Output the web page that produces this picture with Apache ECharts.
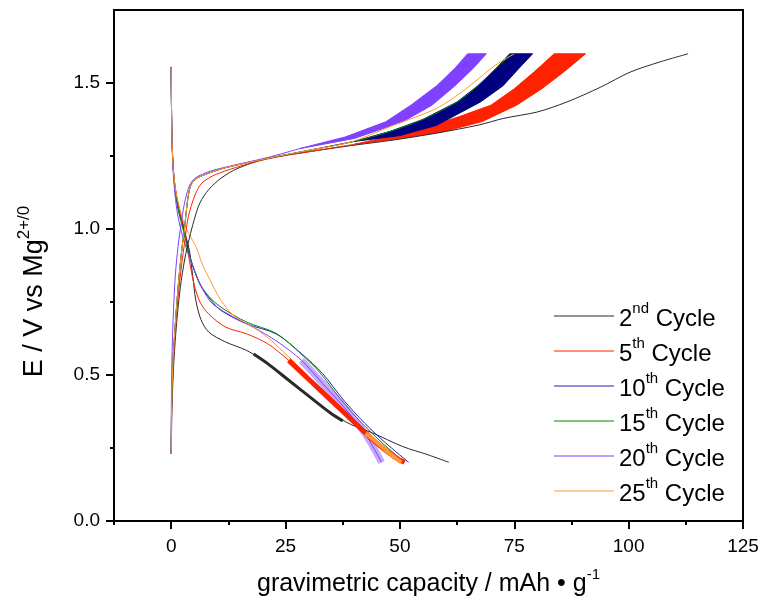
<!DOCTYPE html>
<html>
<head>
<meta charset="utf-8">
<script src="https://cdn.jsdelivr.net/npm/echarts@6/dist/echarts.min.js"></script>
<style>
html,body{margin:0;padding:0;background:#fff;}
#chart{width:762px;height:602px;}
</style>
</head>
<body>
<div id="chart"></div>
<script>
// ---- axis ticks ----
const xTicksMajor = [0, 25, 50, 75, 100, 125];
const xTicksMinor = [-12.5, 12.5, 37.5, 62.5, 87.5, 112.5];
const yTicksMajor = [0, 0.5, 1.0, 1.5];
const yTicksMinor = [0.25, 0.75, 1.25];

// ---- legend / series names ----
const cycleNames = ['2nd Cycle', '5th Cycle', '10th Cycle', '15th Cycle', '20th Cycle', '25th Cycle'];
const cycleNums = ['2', '5', '10', '15', '20', '25'];
const cycleSups = ['nd', 'th', 'th', 'th', 'th', 'th'];

// ---- discharge curves [capacity, E] ----
const discharge2 = [[0,1.555],[0.05,1.45],[0.15,1.33],[0.4,1.22],[0.9,1.14],[1.6,1.08],[2.5,1.02],[3.3,0.97],[4.0,0.925],[4.7,0.84],[5.4,0.755],[6.5,0.69],[8.2,0.647],[11.9,0.613],[16.5,0.584],[21.1,0.539],[25.7,0.482],[30.3,0.425],[34.9,0.369],[39.5,0.329],[44.1,0.301],[50.6,0.255],[56.1,0.227],[60.7,0.201]];
const discharge5 = [[0,1.555],[0.05,1.45],[0.15,1.33],[0.4,1.22],[0.9,1.14],[1.6,1.08],[2.4,1.03],[3.1,0.982],[4.0,0.89],[5.0,0.811],[6.3,0.75],[8.2,0.709],[11.9,0.664],[16.5,0.641],[21.1,0.607],[25.7,0.55],[30.3,0.482],[34.9,0.414],[39.5,0.346],[44.1,0.278],[48.7,0.221],[51.0,0.201]];
const discharge10 = [[0,1.555],[0.05,1.45],[0.15,1.33],[0.4,1.22],[0.8,1.14],[1.5,1.07],[2.6,1.004],[4.2,0.90],[6.3,0.811],[8.5,0.76],[10.9,0.721],[16.5,0.675],[22.9,0.641],[28.5,0.573],[33.1,0.505],[37.7,0.414],[42.3,0.335],[46.9,0.267],[51.9,0.201]];
const discharge15 = [[0,1.555],[0.05,1.45],[0.15,1.33],[0.4,1.22],[0.8,1.14],[1.5,1.07],[2.5,1.005],[4.0,0.91],[6.0,0.82],[8.3,0.768],[10.9,0.732],[16.5,0.681],[22.9,0.643],[28.0,0.578],[32.4,0.51],[36.9,0.42],[41.5,0.338],[46.1,0.268],[51.0,0.201]];
const discharge20 = [[0,1.555],[0.05,1.45],[0.15,1.33],[0.35,1.22],[0.7,1.14],[1.3,1.06],[2.2,0.993],[3.6,0.92],[5.4,0.846],[7.0,0.79],[9.1,0.743],[13.7,0.698],[19.3,0.652],[23.9,0.607],[28.5,0.55],[33.1,0.471],[37.7,0.391],[42.3,0.301],[46.0,0.201]];
const discharge25 = [[0,1.555],[0.05,1.45],[0.15,1.33],[0.4,1.22],[0.9,1.14],[1.7,1.08],[2.8,1.02],[4.0,0.98],[5.4,0.94],[6.8,0.88],[8.2,0.834],[10.9,0.755],[13.7,0.703],[17.5,0.668],[21.1,0.628],[25.7,0.562],[30.3,0.49],[34.9,0.42],[39.5,0.35],[44.1,0.28],[48.5,0.222],[50.3,0.201]];

// thick (noisy) stretches of the discharge curves
const discharge2Thick = [[18.0,0.572],[21.1,0.539],[25.7,0.482],[30.3,0.425],[34.9,0.369],[37.5,0.343]];
const discharge5Thick = [[25.7,0.55],[30.3,0.482],[34.9,0.414],[39.5,0.346],[44.1,0.278],[48.7,0.221],[51.0,0.201]];
const discharge20Thick = [[28.5,0.55],[33.1,0.471],[37.7,0.391],[42.3,0.301],[46.0,0.201]];
const discharge25Thick = [[42.5,0.30],[44.1,0.28],[48.5,0.222],[50.3,0.201]];

// ---- charge curves [capacity, E] ----
const charge2 = [[0,0.23],[0.2,0.40],[0.6,0.55],[1.2,0.68],[2.0,0.80],[3.0,0.90],[4.0,0.97],[5.0,1.03],[6.3,1.09],[8.2,1.135],[10.9,1.174],[14.6,1.208],[21.1,1.242],[30.3,1.265],[39.5,1.286],[48.7,1.305],[57.9,1.328],[67.2,1.356],[72.7,1.379],[80.1,1.401],[86.5,1.435],[93.9,1.486],[100.3,1.537],[106.8,1.572],[113.0,1.60]];
const charge5 = [[0,0.23],[0.15,0.40],[0.5,0.55],[1.0,0.67],[1.6,0.78],[2.3,0.88],[3.0,0.96],[3.6,1.03],[4.4,1.08],[5.3,1.12],[6.3,1.15],[7.3,1.165],[9.5,1.185],[14.0,1.21],[21.1,1.24],[30.3,1.265],[40.0,1.29]];
const charge10 = [[0,0.23],[0.1,0.40],[0.4,0.55],[0.8,0.65],[1.3,0.76],[1.8,0.85],[2.4,0.94],[2.9,1.0],[3.3,1.06],[3.7,1.11],[4.3,1.15],[5.4,1.172],[8.0,1.19],[11.9,1.21],[21.1,1.242],[30.3,1.27],[40.0,1.30]];
const charge15 = [[0,0.23],[0.1,0.40],[0.4,0.55],[0.8,0.65],[1.3,0.76],[1.8,0.85],[2.4,0.94],[2.9,1.0],[3.3,1.06],[3.7,1.11],[4.3,1.15],[5.4,1.172],[8.0,1.19],[11.9,1.21],[21.1,1.242],[30.3,1.27],[40.0,1.30],[48.0,1.335],[55.0,1.375],[62.5,1.435],[67.0,1.49],[71.0,1.55],[74.5,1.60]];
const charge20 = [[0,0.23],[0.05,0.42],[0.2,0.58],[0.5,0.72],[0.9,0.84],[1.5,0.94],[2.2,1.02],[2.8,1.08],[3.4,1.12],[4.2,1.155],[5.4,1.176],[8.0,1.195],[11.9,1.212],[21.1,1.245],[28.0,1.275]];
const charge25 = [[0,0.23],[0.1,0.40],[0.4,0.55],[0.8,0.65],[1.3,0.76],[1.8,0.85],[2.4,0.94],[2.9,1.0],[3.3,1.06],[3.7,1.11],[4.3,1.15],[5.4,1.172],[8.0,1.19],[11.9,1.21],[21.1,1.242],[30.3,1.27],[39.5,1.299],[48.7,1.356],[57.9,1.412],[63.5,1.469],[67.2,1.515],[70.8,1.56],[75.0,1.60]];

// noisy bands at the end of charge: left and right edges
const charge5BandLeft = [[40.0,1.29],[48.0,1.318],[56.0,1.35],[63.0,1.385],[69.9,1.424],[75.0,1.48],[79.5,1.54],[83.7,1.60]];
const charge5BandRight = [[40.0,1.29],[50.0,1.31],[60.0,1.335],[68.0,1.368],[75.5,1.424],[81.0,1.48],[86.0,1.54],[90.6,1.60]];
const charge10BandLeft = [[40.0,1.30],[48.0,1.335],[55.0,1.375],[62.5,1.435],[67.0,1.49],[71.0,1.55],[74.0,1.60]];
const charge10BandRight = [[40.0,1.30],[50.0,1.32],[58.0,1.355],[67.6,1.435],[72.5,1.49],[76.0,1.55],[79.0,1.60]];
const charge20BandLeft = [[28.0,1.275],[38.0,1.315],[46.9,1.367],[52.4,1.424],[58.0,1.49],[62.0,1.55],[64.8,1.60]];
const charge20BandRight = [[28.0,1.275],[40.0,1.31],[50.6,1.367],[57.0,1.424],[62.0,1.49],[66.0,1.55],[68.9,1.60]];

// ---- styles ----
const colors = ['#2a2a2a', '#ff2200', '#2424b0', '#008800', '#8040ff', '#ff9933'];
const bandColors = { c5: '#ff2200', c10: '#000080', c20: '#8040ff' };
const FONT = '"Liberation Sans", Arial, sans-serif';

function lineSeries(name, data, color, width, opacity) {
  return {
    type: 'line', name: name, data: data, showSymbol: false, symbol: 'none',
    smooth: 0.3,
    lineStyle: { color: color, width: width || 1, opacity: opacity == null ? 1 : opacity },
    itemStyle: { color: color },
    emphasis: { disabled: true }, silent: true, animation: false
  };
}
function bandSeries(name, left, right, color) {
  return {
    type: 'custom', name: name, data: [[0, 0]], encode: { x: 0, y: 1 },
    clip: true, silent: true, animation: false,
    itemStyle: { color: color },
    renderItem: function (params, api) {
      const pts = left.map(p => api.coord(p)).concat(right.slice().reverse().map(p => api.coord(p)));
      return { type: 'polygon', shape: { points: pts }, style: { fill: color, stroke: color, lineWidth: 1 } };
    }
  };
}

const series = [
  lineSeries(cycleNames[0], discharge2, colors[0]),
  lineSeries(cycleNames[1], discharge5, colors[1]),
  lineSeries(cycleNames[2], discharge10, colors[2]),
  lineSeries(cycleNames[3], discharge15, colors[3]),
  lineSeries(cycleNames[4], discharge20, colors[4]),
  lineSeries(cycleNames[5], discharge25, colors[5]),
  lineSeries(cycleNames[0], charge2, colors[0]),
  lineSeries(cycleNames[1], charge5, colors[1]),
  lineSeries(cycleNames[2], charge10, colors[2]),
  lineSeries(cycleNames[3], charge15, colors[3]),
  lineSeries(cycleNames[4], charge20, colors[4]),
  lineSeries(cycleNames[5], charge25, colors[5]),
  lineSeries(cycleNames[4], discharge20Thick, colors[4], 7, 0.45),
  lineSeries(cycleNames[0], discharge2Thick, colors[0], 3),
  lineSeries(cycleNames[1], discharge5Thick, colors[1], 5),
  lineSeries(cycleNames[5], discharge25Thick, colors[5], 4),
  bandSeries(cycleNames[1], charge5BandLeft, charge5BandRight, bandColors.c5),
  bandSeries(cycleNames[2], charge10BandLeft, charge10BandRight, bandColors.c10),
  bandSeries(cycleNames[4], charge20BandLeft, charge20BandRight, bandColors.c20)
];

const chart = echarts.init(document.getElementById('chart'), null, { renderer: 'canvas' });
const axisLineStyle = { color: '#000', width: 2 };
chart.setOption({
  animation: false,
  backgroundColor: '#fff',
  grid: { left: 114, right: 19, top: 10, bottom: 80, show: true, borderColor: '#000', borderWidth: 2, backgroundColor: 'transparent' },
  legend: {
    orient: 'vertical', left: 549, top: 296, itemWidth: 60, itemHeight: 1, itemGap: 5, icon: 'rect',
    data: cycleNames.map((n, i) => ({ name: n, itemStyle: { color: colors[i] } })),
    selectedMode: false,
    formatter: function (name) {
      const i = cycleNames.indexOf(name);
      return '{n|' + cycleNums[i] + '}{s|' + cycleSups[i] + '}{n| Cycle}';
    },
    textStyle: {
      fontFamily: FONT, color: '#000',
      rich: {
        n: { fontFamily: FONT, fontSize: 24, color: '#000', lineHeight: 30, verticalAlign: 'bottom' },
        s: { fontFamily: FONT, fontSize: 15, color: '#000', lineHeight: 30, verticalAlign: 'top' }
      }
    }
  },
  xAxis: [{
    type: 'value', min: -12.5, max: 125, interval: 12.5, position: 'bottom',
    axisLine: { show: true, onZero: false, lineStyle: axisLineStyle },
    axisTick: { show: true, inside: false, length: 8, customValues: xTicksMajor, lineStyle: { color: '#000', width: 2 } },
    axisLabel: { show: true, customValues: xTicksMajor, fontFamily: FONT, fontSize: 19, color: '#000', margin: 16, formatter: v => String(v) },
    splitLine: { show: false },
    name: '{t|gravimetric capacity / mAh • g}{s|-1}',
    nameLocation: 'middle', nameGap: 46,
    nameTextStyle: {
      rich: {
        t: { fontFamily: FONT, fontSize: 25, color: '#000', lineHeight: 30, verticalAlign: 'bottom' },
        s: { fontFamily: FONT, fontSize: 15, color: '#000', lineHeight: 30, verticalAlign: 'top' }
      }
    }
  }, {
    type: 'value', min: -12.5, max: 125, interval: 12.5, position: 'bottom',
    axisLine: { show: false, onZero: false },
    axisTick: { show: true, inside: false, length: 4, customValues: xTicksMinor, lineStyle: { color: '#000', width: 2 } },
    axisLabel: { show: false }, splitLine: { show: false }
  }],
  yAxis: [{
    type: 'value', min: 0, max: 1.75, interval: 0.25, position: 'left',
    axisLine: { show: true, onZero: false, lineStyle: axisLineStyle },
    axisTick: { show: true, inside: false, length: 8, customValues: yTicksMajor, lineStyle: { color: '#000', width: 2 } },
    axisLabel: { show: true, customValues: yTicksMajor, fontFamily: FONT, fontSize: 19, color: '#000', margin: 14, formatter: v => v.toFixed(1) },
    splitLine: { show: false },
    name: '{t|E / V vs Mg}{s|2+/0}',
    nameLocation: 'middle', nameGap: 66,
    nameTextStyle: {
      padding: [0, 52, 0, 0],
      rich: {
        t: { fontFamily: FONT, fontSize: 27, color: '#000', lineHeight: 32, verticalAlign: 'bottom' },
        s: { fontFamily: FONT, fontSize: 17, color: '#000', lineHeight: 32, verticalAlign: 'top' }
      }
    }
  }, {
    type: 'value', min: 0, max: 1.75, interval: 0.25, position: 'left',
    axisLine: { show: false, onZero: false },
    axisTick: { show: true, inside: false, length: 4, customValues: yTicksMinor, lineStyle: { color: '#000', width: 2 } },
    axisLabel: { show: false }, splitLine: { show: false }
  }],
  series: series
});
</script>
</body>
</html>
